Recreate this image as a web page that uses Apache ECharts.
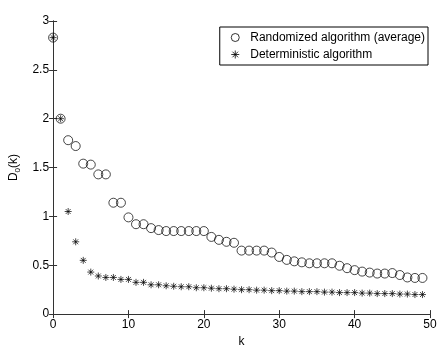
<!DOCTYPE html>
<html>
<head>
<meta charset="utf-8">
<script src="https://cdn.jsdelivr.net/npm/echarts@6/dist/echarts.min.js"></script>
<style>
html, body { margin: 0; padding: 0; background: #fff; }
#chartmain { width: 443px; height: 353px; }
</style>
</head>
<body>
<div id="chartmain"></div>
<script>
// values, k = 0..49
var kValues = [];
for (var i = 0; i < 50; i++) kValues.push(i);

var randomized = [2.83, 2.0, 1.78, 1.72, 1.54, 1.53, 1.43, 1.43, 1.14, 1.14,
    0.99, 0.92, 0.92, 0.88, 0.86, 0.85, 0.85, 0.85, 0.85, 0.85,
    0.85, 0.79, 0.76, 0.74, 0.73, 0.65, 0.65, 0.65, 0.65, 0.63,
    0.585, 0.555, 0.54, 0.53, 0.52, 0.52, 0.52, 0.52, 0.495, 0.47,
    0.45, 0.435, 0.425, 0.415, 0.415, 0.42, 0.40, 0.375, 0.37, 0.37];

var deterministic = [2.83, 2.0, 1.05, 0.74, 0.55, 0.43, 0.39, 0.375, 0.375, 0.355,
    0.355, 0.325, 0.325, 0.30, 0.30, 0.29, 0.285, 0.28, 0.28, 0.27,
    0.27, 0.265, 0.26, 0.26, 0.255, 0.25, 0.25, 0.245, 0.245, 0.24,
    0.24, 0.235, 0.235, 0.23, 0.23, 0.23, 0.225, 0.225, 0.22, 0.22,
    0.22, 0.215, 0.215, 0.21, 0.21, 0.21, 0.205, 0.205, 0.20, 0.20];

var seriesNames = ['Randomized algorithm (average)', 'Deterministic algorithm'];

function pairs(vals) {
    return vals.map(function (v, i) { return [kValues[i], v]; });
}

var asterisk = 'path://M5 0L5 10M0 5L10 5M1.5 1.5L8.5 8.5M8.5 1.5L1.5 8.5';
var font = 'Liberation Sans, Arial, sans-serif';

var myChart = echarts.init(document.getElementById('chartmain'));
var axisCommon = {
    type: 'value',
    axisLine: {show: true, lineStyle: {color: '#333', width: 1}},
    axisTick: {show: true, inside: true, length: 4, lineStyle: {color: '#333'}},
    splitLine: {show: false},
    axisLabel: {color: '#000', fontSize: 12, fontFamily: font}
};
var option = {
    animation: false,
    backgroundColor: '#fff',
    grid: {left: 49, right: 13, top: 21, bottom: 33},
    legend: {
        data: [
            {name: seriesNames[0], icon: 'circle', itemStyle: {color: 'none', borderColor: '#000', borderWidth: 1}},
            {name: seriesNames[1], icon: asterisk, itemStyle: {color: 'none', borderColor: '#000', borderWidth: 1}}
        ],
        orient: 'vertical',
        right: 15,
        top: 27,
        itemWidth: 8,
        itemHeight: 8,
        itemGap: 4,
        padding: [4, 3, 4, 9],
        borderColor: '#000',
        borderWidth: 1,
        backgroundColor: '#fff',
        textStyle: {color: '#000', fontSize: 12, fontFamily: font, padding: [0, 0, 0, 6]}
    },
    xAxis: [
        Object.assign({}, axisCommon, {
            min: 0, max: 50, interval: 10,
            name: 'k', nameLocation: 'middle', nameGap: 21,
            nameTextStyle: {color: '#000', fontSize: 12, fontFamily: font},
            axisLabel: Object.assign({}, axisCommon.axisLabel, {margin: 5})
        }),
        Object.assign({}, axisCommon, {
            position: 'top', min: 0, max: 50, interval: 10,
            axisLabel: {show: false}
        })
    ],
    yAxis: [
        Object.assign({}, axisCommon, {
            min: 0, max: 3, interval: 0.5,
            name: 'D{sub|0}(k)', nameLocation: 'middle', nameGap: 30,
            nameTextStyle: {
                color: '#000', fontSize: 12, fontFamily: font,
                rich: {sub: {fontSize: 8, fontFamily: font, color: '#000', padding: [7, 0, 0, 0]}}
            },
            axisLabel: Object.assign({}, axisCommon.axisLabel, {margin: 4})
        }),
        Object.assign({}, axisCommon, {
            position: 'right', min: 0, max: 3, interval: 0.5,
            axisLabel: {show: false}
        })
    ],
    series: [
        {
            name: seriesNames[0],
            type: 'scatter',
            clip: false,
            symbol: 'circle',
            symbolSize: 9,
            itemStyle: {color: 'none', borderColor: '#000', borderWidth: 0.9},
            data: pairs(randomized)
        },
        {
            name: seriesNames[1],
            type: 'scatter',
            clip: false,
            symbol: asterisk,
            symbolSize: 7,
            itemStyle: {color: 'none', borderColor: '#000', borderWidth: 0.9},
            data: pairs(deterministic)
        }
    ]
};
myChart.setOption(option);
</script>
</body>
</html>
